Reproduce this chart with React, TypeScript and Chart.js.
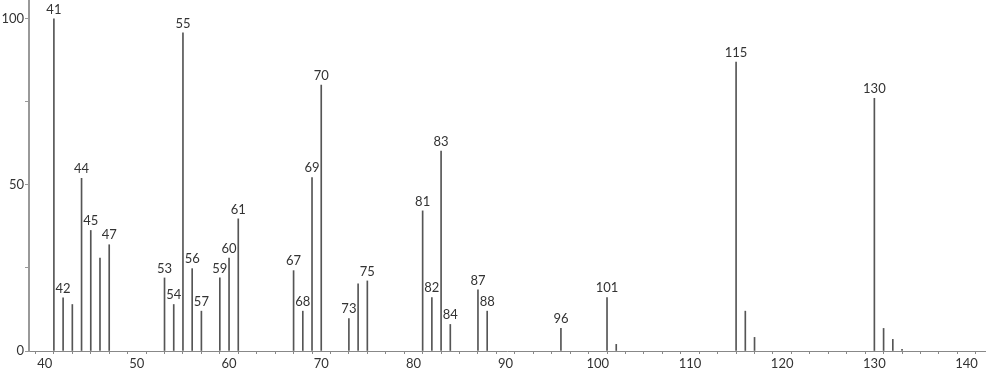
import React, { useEffect, useRef } from "react";
import { Chart, registerables } from "chart.js";

Chart.register(...registerables);

const masses = [41, 42, 43, 44, 45, 46, 47, 53, 54, 55, 56, 57, 59, 60, 61, 67, 68, 69, 70, 73, 74, 75, 81, 82, 83, 84, 87, 88, 96, 101, 102, 115, 116, 117, 130, 131, 132, 133];
const intensities = [100, 16, 14, 52, 36.3, 28, 32, 22, 14, 95.8, 24.8, 12, 22, 28, 39.8, 24.2, 12, 52.2, 80.1, 9.8, 20.2, 21.1, 42.2, 16.1, 60.2, 8, 18.4, 12, 6.8, 16.1, 2, 87, 12, 4.1, 76.1, 6.8, 3.5, 0.5];
const labeledMasses = [41, 42, 44, 45, 47, 53, 54, 55, 56, 57, 59, 60, 61, 67, 68, 69, 70, 73, 75, 81, 82, 83, 84, 87, 88, 96, 101, 115, 130];
const xTickValues = [40, 50, 60, 70, 80, 90, 100, 110, 120, 130, 140];
const yTickValues = [0, 50, 100];

const FONT = "Lato, 'DejaVu Sans', sans-serif";

const peakLabelPlugin = {
  id: "peakLabels",
  afterDatasetsDraw(chart: any) {
    const ctx = chart.ctx;
    const meta = chart.getDatasetMeta(0);
    ctx.save();
    ctx.font = `13px ${FONT}`;
    ctx.fillStyle = "#333";
    ctx.textAlign = "center";
    ctx.textBaseline = "bottom";
    meta.data.forEach((el: any, i: number) => {
      const m = masses[i];
      if (labeledMasses.includes(m)) {
        ctx.fillText(String(m), el.x, el.y - 3);
      }
    });
    ctx.restore();
  },
};

export default function App() {
  const ref = useRef<HTMLCanvasElement | null>(null);
  useEffect(() => {
    if (!ref.current) return;
    const chart = new Chart(ref.current, {
      type: "bar",
      data: {
        datasets: [
          {
            data: masses.map((m, i) => ({ x: m, y: intensities[i] })),
            backgroundColor: "#555",
            borderWidth: 0,
            barThickness: 1,
          },
        ],
      },
      options: {
        animation: false,
        responsive: true,
        maintainAspectRatio: false,
        layout: { padding: { left: 0, right: 1, top: 0, bottom: 0 } },
        plugins: { legend: { display: false }, tooltip: { enabled: false } },
        scales: {
          x: {
            type: "linear",
            min: 38.3,
            max: 142,
            offset: false,
            afterBuildTicks: (scale: any) => {
              const t = [];
              for (let v = 40; v <= 140; v += 2) t.push({ value: v });
              scale.ticks = t;
            },
            afterFit: (scale: any) => {
              scale.height = 22;
              scale.paddingLeft = 0;
              scale.paddingRight = 0;
            },
            ticks: {
              autoSkip: false,
              maxRotation: 0,
              padding: 2,
              color: "#333",
              font: { family: FONT, size: 13 },
              callback: (v: any) => (xTickValues.includes(Number(v)) ? String(v) : ""),
            },
            grid: { drawOnChartArea: false, drawTicks: true, tickLength: 3, color: "#888" },
            border: { color: "#888", width: 1 },
          },
          y: {
            min: 0,
            max: 105.7,
            afterBuildTicks: (scale: any) => {
              scale.ticks = [0, 25, 50, 75, 100].map((v) => ({ value: v }));
            },
            afterFit: (scale: any) => {
              scale.width = 29;
              scale.paddingTop = 0;
              scale.paddingBottom = 0;
            },
            ticks: {
              autoSkip: false,
              padding: 1,
              color: "#333",
              font: { family: FONT, size: 13 },
              callback: (v: any) => (yTickValues.includes(Number(v)) ? String(v) : ""),
            },
            grid: { drawOnChartArea: false, drawTicks: true, tickLength: 4, color: "#999" },
            border: { color: "#999", width: 2 },
          },
        },
      },
      plugins: [peakLabelPlugin],
    } as any);
    return () => chart.destroy();
  }, []);
  return (
    <div style={{ position: "fixed", left: 0, top: 0, width: 986, height: 373, background: "#fff" }}>
      <canvas ref={ref} />
    </div>
  );
}
